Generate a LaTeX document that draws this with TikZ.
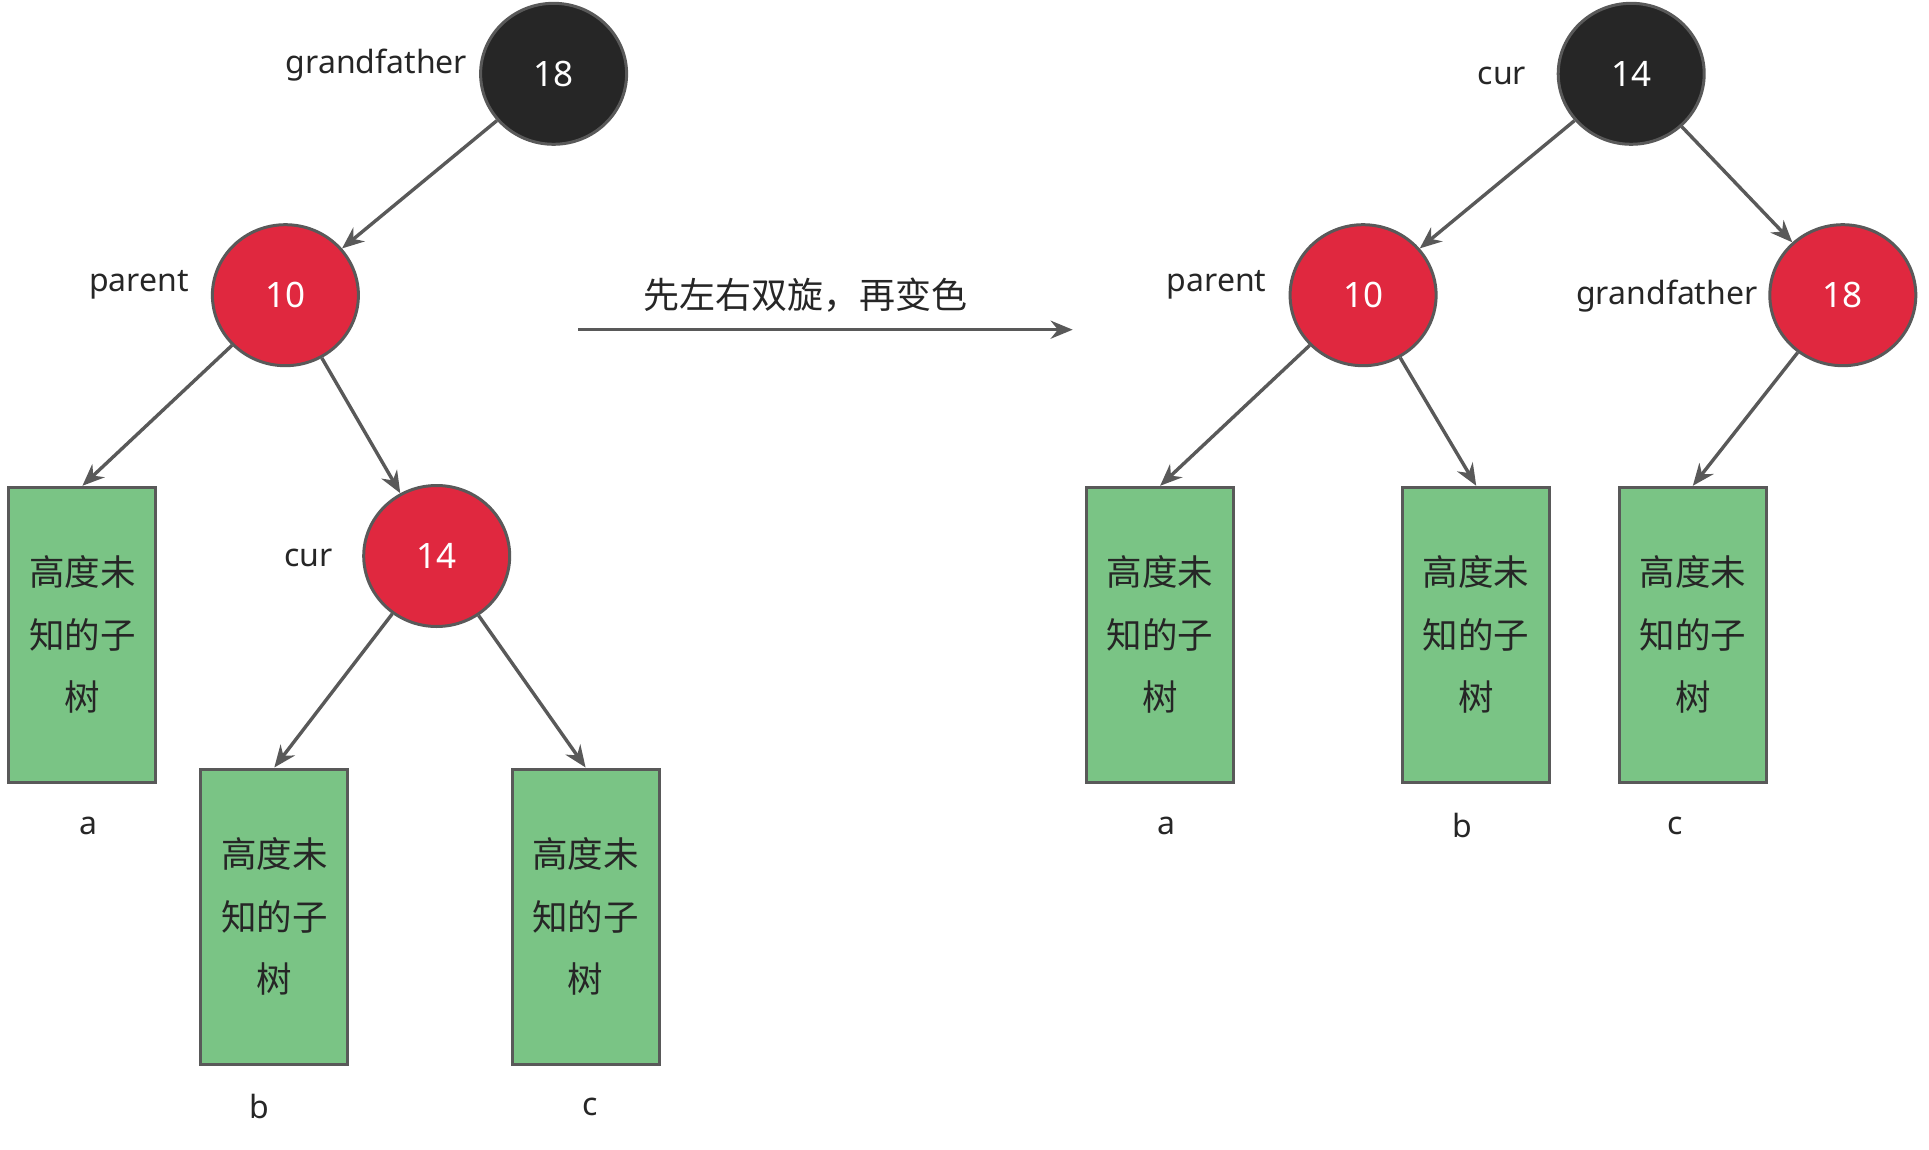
\documentclass[tikz,border=0pt]{standalone}
\usepackage{fontspec}
\setmainfont{Noto Sans}
\newfontfamily\cjk{Noto Sans CJK SC}
\usetikzlibrary{arrows.meta,shapes.geometric}
\definecolor{edgegray}{HTML}{595959}
\definecolor{nodeblack}{HTML}{262626}
\definecolor{nodered}{HTML}{E0283F}
\definecolor{boxgreen}{HTML}{7AC485}
\definecolor{txt}{HTML}{262626}
\begin{document}
\begin{tikzpicture}[x=1pt,y=-1pt,
  rbnode/.style={ellipse,draw=edgegray,line width=3pt,minimum width=146pt,minimum height=141pt,inner sep=0pt,text=white,font=\fontsize{35}{40}\selectfont},
  blk/.style={rbnode,fill=nodeblack},
  red/.style={rbnode,fill=nodered},
  subtree/.style={rectangle,draw=edgegray,line width=3pt,fill=boxgreen,minimum width=147pt,minimum height=295pt,inner sep=0pt,align=center,text=txt,font=\cjk\fontsize{35.5}{62.5}\selectfont},
  lbl/.style={text=txt,font=\fontsize{32}{38}\selectfont,inner sep=0pt},
  edge/.style={draw=edgegray,line width=3.4pt,-{Stealth[length=22pt,width=18pt]}}
]
\useasboundingbox (0,0) rectangle (1929,1150);
% left tree
\node[blk] (lg) at (553.6,73.8) {18};
\node[red] (lp) at (285.4,295.2) {10};
\node[red] (lc) at (436.7,556.0) {14};
\node[subtree] (la) at (82.4,634.8) {高度未\\知的子\\树};
\node[subtree] (lb) at (274.3,916.5) {高度未\\知的子\\树};
\node[subtree] (lcc) at (585.6,916.5) {高度未\\知的子\\树};
\node[lbl] (tlg) at (376.4,65) {grandfather};
\node[lbl] (tlp) at (139,285) {parent};
\node[lbl] (tlc) at (308.8,558) {cur};
\node[lbl] (tla) at (88.6,826) {a};
\node[lbl] (tlb) at (259.6,1106) {b};
\node[lbl] (tlcc) at (590.5,1107) {c};
\draw[edge] (lg) -- (lp);
\draw[edge] (lp) -- (la.north);
\draw[edge] (lp) -- (lc);
\draw[edge] (lc) -- (lb.north);
\draw[edge] (lc) -- (lcc.north);
% middle arrow
\coordinate (as) at (578.2,329.7);
\coordinate (ae) at (1072.7,329.7);
\draw[edge] (as) -- (ae);
\node[text=txt,font=\cjk\fontsize{36}{40}\selectfont] (atext) at (805.8,295.2) {先左右双旋，再变色};
% right tree
\node[blk] (rc) at (1631.2,73.8) {14};
\node[red] (rp) at (1363.1,295.2) {10};
\node[red] (rg) at (1842.8,295.2) {18};
\node[subtree] (ra) at (1160.1,634.8) {高度未\\知的子\\树};
\node[subtree] (rb) at (1476.2,634.8) {高度未\\知的子\\树};
\node[subtree] (rcc) at (1692.8,634.8) {高度未\\知的子\\树};
\node[lbl] (trc) at (1502,76) {cur};
\node[lbl] (trp) at (1216.7,285) {parent};
\node[lbl] (trg) at (1666.9,296) {grandfather};
\node[lbl] (tra) at (1166.2,826) {a};
\node[lbl] (trb) at (1462.7,825.5) {b};
\node[lbl] (trcc) at (1675.6,826) {c};
\draw[edge] (rc) -- (rp);
\draw[edge] (rc) -- (rg);
\draw[edge] (rp) -- (ra.north);
\draw[edge] (rp) -- (rb.north);
\draw[edge] (rg) -- (rcc.north);
\end{tikzpicture}
\end{document}
